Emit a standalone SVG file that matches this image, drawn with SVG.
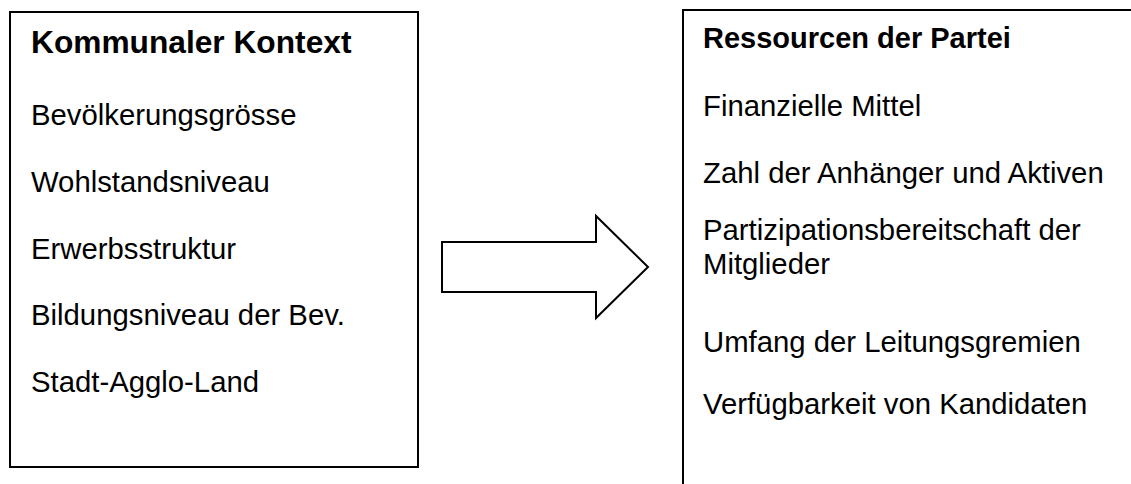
<svg xmlns="http://www.w3.org/2000/svg" width="1131" height="484" viewBox="0 0 1131 484">
<style>
.box{fill:#fff;stroke:#000;stroke-width:2}
.t{font-family:"Liberation Sans",Arial,sans-serif;fill:#000}
.h1{font-size:31.7px;font-weight:bold}
.h2{font-size:29px;font-weight:bold}
.b{font-size:29.3px}
</style>
<rect width="1131" height="484" fill="#fff"/>
<g id="kommunaler-kontext">
<rect class="box" x="10" y="12" width="408" height="455"/>
<text class="t h1" x="31" y="53">Kommunaler Kontext</text>
<text class="t b" x="31" y="125">Bevölkerungsgrösse</text>
<text class="t b" x="31" y="192">Wohlstandsniveau</text>
<text class="t b" x="31" y="259">Erwerbsstruktur</text>
<text class="t b" x="31" y="325">Bildungsniveau der Bev.</text>
<text class="t b" x="31" y="392">Stadt-Agglo-Land</text>
</g>
<g id="connectors">
<polygon class="box" points="442,242 596,242 596,216 648,267 596,318 596,292 442,292"/>
</g>
<g id="ressourcen-der-partei">
<rect class="box" x="683" y="10" width="520" height="520"/>
<text class="t h2" x="703" y="48">Ressourcen der Partei</text>
<text class="t b" x="703" y="116">Finanzielle Mittel</text>
<text class="t b" x="703" y="183">Zahl der Anhänger und Aktiven</text>
<text class="t b" x="703" y="240">Partizipationsbereitschaft der</text>
<text class="t b" x="703" y="274">Mitglieder</text>
<text class="t b" x="703" y="352">Umfang der Leitungsgremien</text>
<text class="t b" x="703" y="414">Verfügbarkeit von Kandidaten</text>
</g>
</svg>
